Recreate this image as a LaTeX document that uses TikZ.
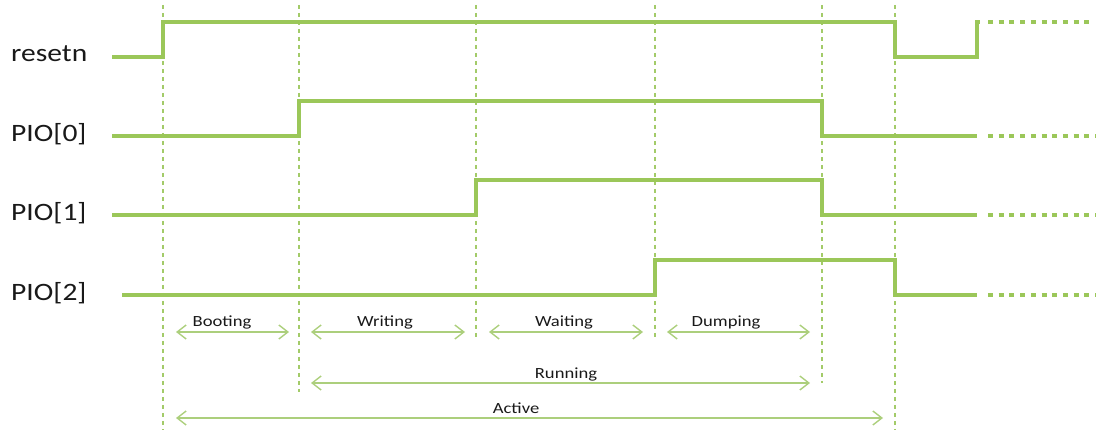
\documentclass[tikz,border=0pt]{standalone}
\usepackage{fontspec}
\setmainfont{Carlito}
\usetikzlibrary{arrows.meta}
\definecolor{sig}{RGB}{155,199,89}
\definecolor{arr}{RGB}{172,207,124}
\definecolor{gridc}{RGB}{163,203,105}
\definecolor{txt}{RGB}{25,25,25}
\begin{document}
\begin{tikzpicture}[x=1pt,y=-1pt,
  signal/.style={sig, line width=4.5pt, line join=miter},
  cont/.style={sig, line width=4.5pt, dash pattern=on 5pt off 5.7pt},
  guide/.style={gridc, line width=1.3pt, dash pattern=on 4pt off 4pt},
  span/.style={arr, line width=1.4pt, {Straight Barb[length=9pt,width=14pt]}-{Straight Barb[length=9pt,width=14pt]}},
  siglabel/.style={anchor=base west, font=\fontsize{25}{30}\selectfont, xscale=1.18, inner sep=0, text=txt},
  phaselabel/.style={anchor=base, font=\fontsize{15.5}{18}\selectfont, xscale=1.2, inner sep=0, text=txt}]
\useasboundingbox (0,0) rectangle (1096,430);
% guides
\draw[guide] (163,5) -- (163,430);
\draw[guide] (299,5) -- (299,392);
\draw[guide] (476,5) -- (476,340);
\draw[guide] (655,5) -- (655,340);
\draw[guide] (822,5) -- (822,383);
\draw[guide] (895,5) -- (895,430);
% signal labels
\node[siglabel] (lr) at (11,62) {resetn};
\node[siglabel] (l0) at (11,142) {PIO[0]};
\node[siglabel] (l1) at (11,221) {PIO[1]};
\node[siglabel] (l2) at (11,301) {PIO[2]};
% signals
\draw[signal] (112,57) -- (163,57) -- (163,22) -- (895,22) -- (895,57) -- (977,57) -- (977,22) -- (980,22);
\draw[cont] (988,22) -- (1090,22);
\draw[signal] (112,136) -- (299,136) -- (299,101) -- (822,101) -- (822,136) -- (977,136);
\draw[cont] (988,136) -- (1096,136);
\draw[signal] (112,215) -- (476,215) -- (476,180) -- (822,180) -- (822,215) -- (977,215);
\draw[cont] (988,215) -- (1096,215);
\draw[signal] (122,295) -- (655,295) -- (655,260) -- (895,260) -- (895,295) -- (977,295);
\draw[cont] (988,295) -- (1096,295);
% spans
\coordinate (b1) at (176,332); \coordinate (b2) at (289,332);
\coordinate (w1) at (311,332); \coordinate (w2) at (465,332);
\coordinate (a1) at (489,332); \coordinate (a2) at (643,332);
\coordinate (d1) at (667,332); \coordinate (d2) at (810,332);
\coordinate (r1) at (311,383); \coordinate (r2) at (810,383);
\coordinate (t1) at (176,418); \coordinate (t2) at (883,418);
\draw[span] (b1) -- (b2);
\draw[span] (w1) -- (w2);
\draw[span] (a1) -- (a2);
\draw[span] (d1) -- (d2);
\draw[span] (r1) -- (r2);
\draw[span] (t1) -- (t2);
\node[phaselabel] (pb) at (222,327) {Booting};
\node[phaselabel] (pw) at (385,327) {Writing};
\node[phaselabel] (pa) at (564,327) {Waiting};
\node[phaselabel] (pd) at (726,327) {Dumping};
\node[phaselabel] (pr) at (566,379) {Running};
\node[phaselabel] (pt) at (516,414) {Active};
\end{tikzpicture}
\end{document}
